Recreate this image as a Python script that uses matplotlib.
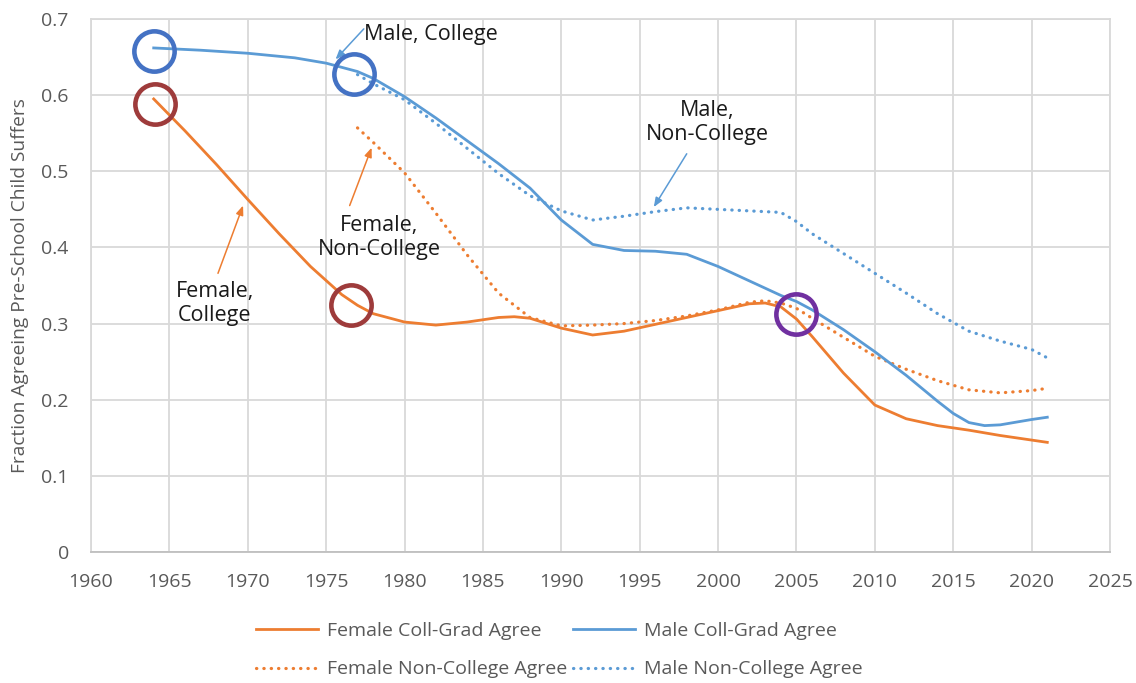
import matplotlib
matplotlib.use("Agg")
import matplotlib.pyplot as plt

# values
fem_coll_years = [1964, 1966, 1968, 1970, 1972, 1974, 1976, 1977, 1978, 1980, 1982, 1984,
                  1986, 1987, 1988, 1990, 1992, 1994, 1996, 1998, 2000, 2002, 2003, 2004,
                  2005, 2006, 2008, 2010, 2012, 2014, 2016, 2018, 2021]
fem_coll_vals = [0.595, 0.553, 0.509, 0.463, 0.418, 0.375, 0.338, 0.324, 0.313, 0.302, 0.298,
                 0.302, 0.308, 0.309, 0.307, 0.294, 0.285, 0.290, 0.299, 0.308, 0.317, 0.326,
                 0.327, 0.322, 0.306, 0.283, 0.235, 0.193, 0.175, 0.166, 0.160, 0.153, 0.144]

male_coll_years = [1964, 1967, 1970, 1973, 1975, 1977, 1978, 1980, 1982, 1984, 1986, 1988,
                   1990, 1992, 1994, 1996, 1998, 2000, 2002, 2004, 2005, 2006, 2008, 2010,
                   2012, 2014, 2015, 2016, 2017, 2018, 2020, 2021]
male_coll_vals = [0.662, 0.659, 0.655, 0.649, 0.642, 0.631, 0.622, 0.598, 0.570, 0.540, 0.510,
                  0.478, 0.436, 0.404, 0.396, 0.395, 0.391, 0.375, 0.356, 0.337, 0.329, 0.318,
                  0.292, 0.263, 0.232, 0.198, 0.182, 0.170, 0.166, 0.167, 0.174, 0.177]

fem_non_years = [1977, 1978, 1980, 1982, 1984, 1986, 1988, 1990, 1992, 1994, 1996, 1998,
                 2000, 2002, 2003, 2004, 2005, 2006, 2008, 2010, 2012, 2014, 2016, 2018,
                 2020, 2021]
fem_non_vals = [0.557, 0.538, 0.498, 0.445, 0.390, 0.340, 0.308, 0.297, 0.298, 0.300, 0.304,
                0.310, 0.318, 0.328, 0.330, 0.327, 0.320, 0.307, 0.282, 0.257, 0.240, 0.225,
                0.213, 0.209, 0.212, 0.215]

male_non_years = [1977, 1978, 1980, 1982, 1984, 1986, 1988, 1990, 1992, 1994, 1996, 1998,
                  2000, 2002, 2004, 2005, 2006, 2008, 2010, 2012, 2014, 2016, 2018, 2020,
                  2021]
male_non_vals = [0.627, 0.615, 0.594, 0.563, 0.530, 0.497, 0.468, 0.448, 0.436, 0.441, 0.447,
                 0.452, 0.450, 0.448, 0.446, 0.434, 0.418, 0.392, 0.366, 0.340, 0.313, 0.290,
                 0.277, 0.266, 0.255]

# highlight circles drawn on top of the chart
circle_years = [1964.0, 1976.8, 1964.1, 1976.6, 2005.0]
circle_vals = [0.658, 0.628, 0.588, 0.325, 0.313]
circle_colors = ["#4472C4", "#4472C4", "#9E3B3B", "#9E3B3B", "#7030A0"]

x_ticks = list(range(1960, 2026, 5))
y_ticks = [0, 0.1, 0.2, 0.3, 0.4, 0.5, 0.6, 0.7]
y_tick_labels = ["0", "0.1", "0.2", "0.3", "0.4", "0.5", "0.6", "0.7"]

ORANGE = "#ED7D31"
BLUE = "#5B9BD5"
GRAY = "#595959"

plt.rcParams["font.family"] = ["Open Sans", "DejaVu Sans"]

fig = plt.figure(figsize=(11.36, 6.83), dpi=100)
ax_w = 1110 - 91
ax = fig.add_axes([91 / 1136, 131 / 683, ax_w / 1136, 533 / 683])

dots = (0, (0.1, 2.2))
ax.plot(fem_coll_years, fem_coll_vals, color=ORANGE, lw=2.0, label="Female Coll-Grad Agree")
ax.plot(fem_non_years, fem_non_vals, color=ORANGE, lw=2.3, linestyle=dots,
        dash_capstyle="round", label="Female Non-College Agree")
ax.plot(male_coll_years, male_coll_vals, color=BLUE, lw=2.0, label="Male Coll-Grad Agree")
ax.plot(male_non_years, male_non_vals, color=BLUE, lw=2.3, linestyle=dots,
        dash_capstyle="round", label="Male Non-College Agree")

for cx, cy, cc in zip(circle_years, circle_vals, circle_colors):
    ax.plot([cx], [cy], marker="o", ms=29, mfc="none", mec=cc, mew=3.3, zorder=5)

ax.set_xlim(1960, 2025)
ax.set_ylim(0, 0.7)
ax.set_xticks(x_ticks)
ax.set_yticks(y_ticks)
ax.set_yticklabels(y_tick_labels)
ax.tick_params(length=0, labelsize=14, colors=GRAY)
ax.tick_params(axis="x", pad=15)
ax.tick_params(axis="y", pad=16)
ax.grid(True, color="#D9D9D9", lw=1.3)
ax.set_axisbelow(True)
for side, spine in ax.spines.items():
    spine.set_color("#D9D9D9")
    spine.set_linewidth(1.3)
ax.spines["bottom"].set_color("#BFBFBF")

ax.set_ylabel("Fraction Agreeing Pre-School Child Suffers", fontsize=13.8, color=GRAY)
ax.yaxis.set_label_coords(-(91 - 29) / ax_w, 0.5)

# callout labels and arrows
txt_kw = dict(fontsize=15.5, color="#1a1a1a", linespacing=1.2)
ax.text(1977.4, 0.680, "Male, College", ha="left", va="center", **txt_kw)
ax.text(1999.3, 0.564, "Male,\nNon-College", ha="center", va="center", **txt_kw)
ax.text(1978.4, 0.413, "Female,\nNon-College", ha="center", va="center", **txt_kw)
ax.text(1967.9, 0.326, "Female,\nCollege", ha="center", va="center", **txt_kw)

arrow_kw = dict(arrowstyle="-|>,head_length=0.55,head_width=0.22", lw=1.1,
                shrinkA=0, shrinkB=0)
ax.annotate("", xy=(1975.6, 0.647), xytext=(1977.4, 0.687),
            arrowprops=dict(color=BLUE, **arrow_kw))
ax.annotate("", xy=(1995.9, 0.453), xytext=(1998.0, 0.523),
            arrowprops=dict(color=BLUE, **arrow_kw))
ax.annotate("", xy=(1977.9, 0.531), xytext=(1976.5, 0.455),
            arrowprops=dict(color=ORANGE, **arrow_kw))
ax.annotate("", xy=(1969.7, 0.455), xytext=(1968.1, 0.366),
            arrowprops=dict(color=ORANGE, **arrow_kw))

fig.legend(loc="upper left", bbox_to_anchor=(256 / 1136, (683 - 622) / 683), ncol=2,
           frameon=False, fontsize=14, handlelength=3.2, handletextpad=0.45,
           columnspacing=0.3, labelspacing=1.05, borderpad=0, borderaxespad=0,
           labelcolor=GRAY)

fig.savefig("out.png", dpi=100)
